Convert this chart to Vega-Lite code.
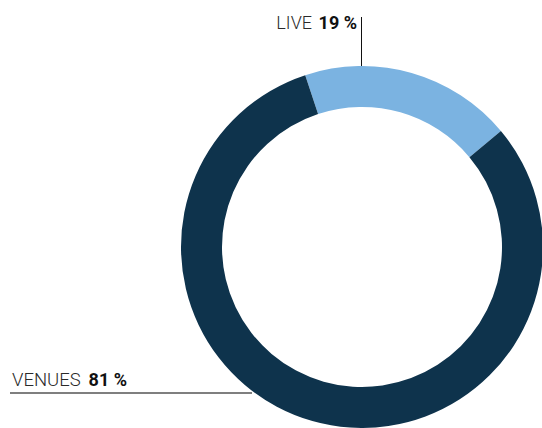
{
  "$schema": "https://vega.github.io/schema/vega-lite/v6.json",
  "width": 542,
  "height": 428,
  "autosize": {"type": "none"},
  "padding": 0,
  "background": "white",
  "config": {"view": {"stroke": null}},
  "data": {"values": [
    {"category": "LIVE", "value": 19},
    {"category": "VENUES", "value": 81}
  ]},
  "layer": [
    {
      "mark": {"type": "arc", "x": 362, "y": 247, "outerRadius": 181, "innerRadius": 140},
      "encoding": {
        "theta": {"field": "value", "type": "quantitative", "stack": true, "scale": {"range": [-0.319, 5.964]}},
        "order": {"field": "value", "sort": "ascending"},
        "color": {"field": "category", "type": "nominal", "legend": null,
          "scale": {"domain": ["LIVE", "VENUES"], "range": ["#7bb3e1", "#0e334c"]}}
      }
    },
    {
      "transform": [{"filter": "datum.category == 'LIVE'"}],
      "mark": {"type": "rule", "color": "#111111", "strokeWidth": 1},
      "encoding": {"x": {"value": 361.5}, "y": {"value": 17}, "y2": {"value": 66}}
    },
    {
      "transform": [{"filter": "datum.category == 'VENUES'"}],
      "mark": {"type": "rule", "color": "#555555", "strokeWidth": 1.3},
      "encoding": {"x": {"value": 10}, "x2": {"value": 252}, "y": {"value": 393}}
    },
    {
      "transform": [{"filter": "datum.category == 'LIVE'"}],
      "mark": {"type": "text", "x": 312, "y": 29, "align": "right", "baseline": "alphabetic", "font": "Roboto", "fontWeight": 300, "fontSize": 18, "color": "#2a2a2a"},
      "encoding": {"text": {"field": "category"}}
    },
    {
      "transform": [{"filter": "datum.category == 'LIVE'"}, {"calculate": "datum.value + ' %'", "as": "label"}],
      "mark": {"type": "text", "x": 357, "y": 29, "align": "right", "baseline": "alphabetic", "font": "Roboto", "fontWeight": "bold", "fontSize": 18, "color": "#111111"},
      "encoding": {"text": {"field": "label"}}
    },
    {
      "transform": [{"filter": "datum.category == 'VENUES'"}],
      "mark": {"type": "text", "x": 12, "y": 386, "align": "left", "baseline": "alphabetic", "font": "Roboto", "fontWeight": 300, "fontSize": 18.5, "color": "#2a2a2a"},
      "encoding": {"text": {"field": "category"}}
    },
    {
      "transform": [{"filter": "datum.category == 'VENUES'"}, {"calculate": "datum.value + ' %'", "as": "label"}],
      "mark": {"type": "text", "x": 127, "y": 386, "align": "right", "baseline": "alphabetic", "font": "Roboto", "fontWeight": "bold", "fontSize": 18, "color": "#111111"},
      "encoding": {"text": {"field": "label"}}
    }
  ]
}
